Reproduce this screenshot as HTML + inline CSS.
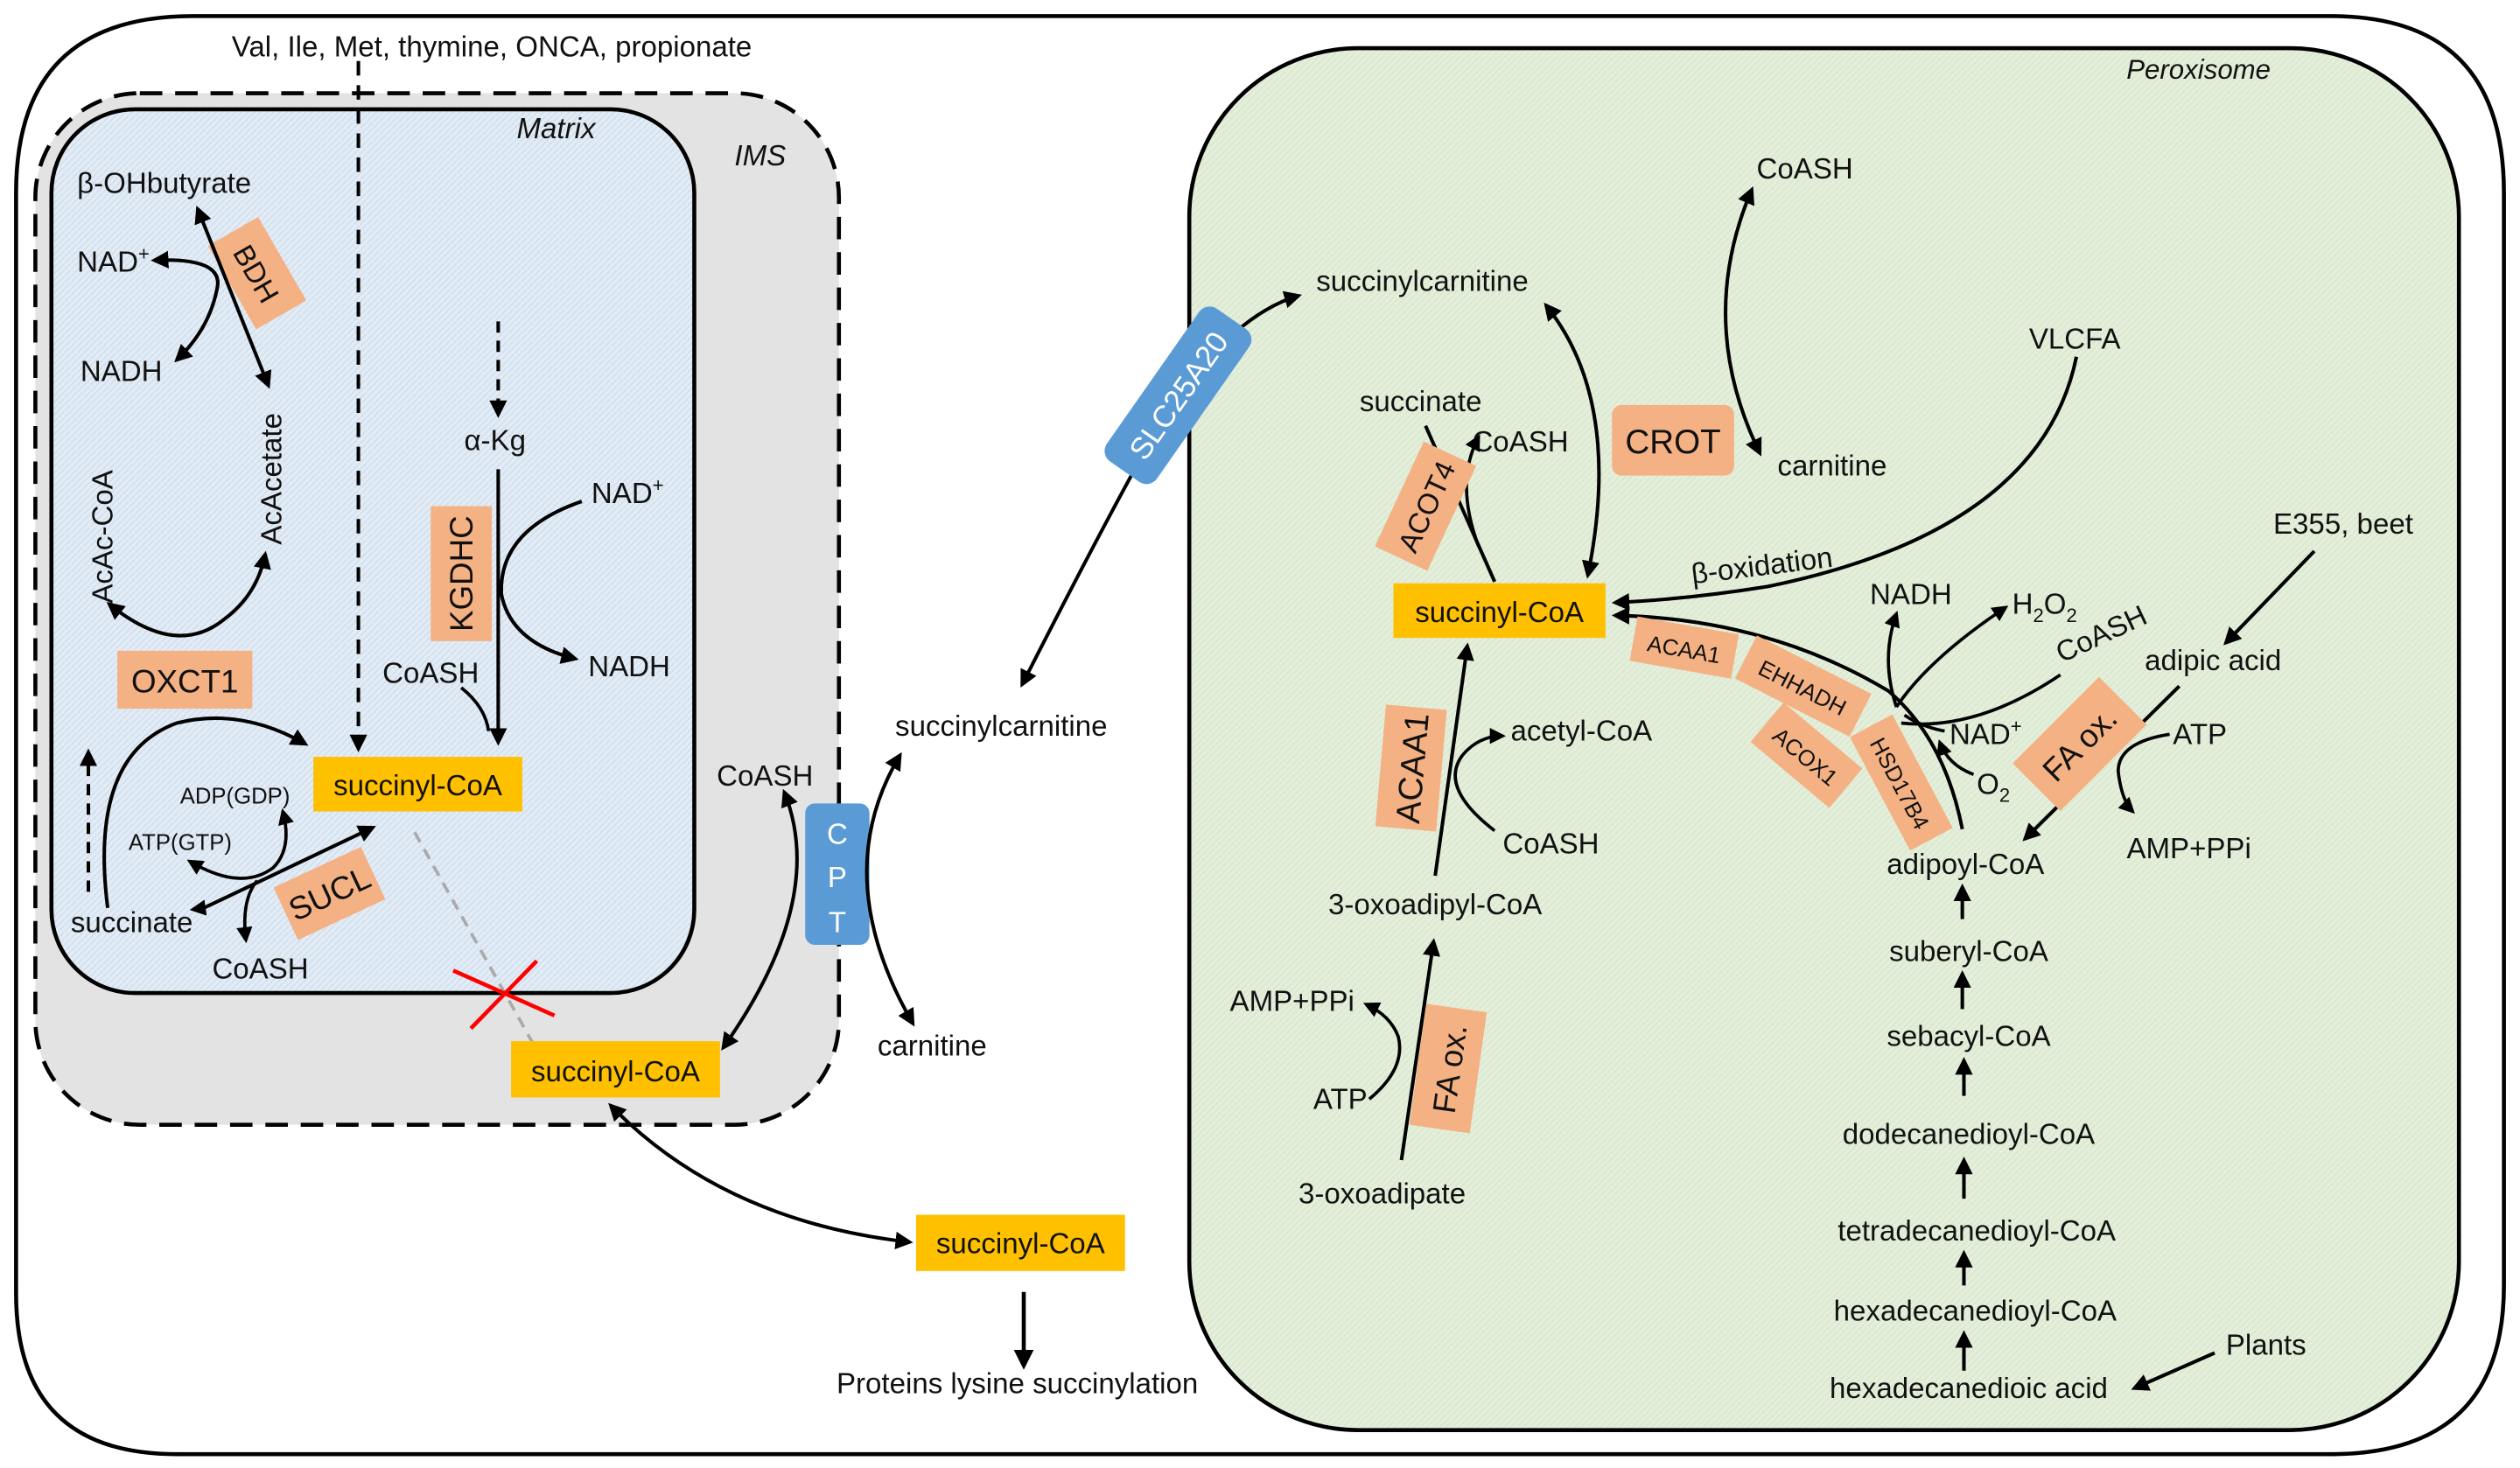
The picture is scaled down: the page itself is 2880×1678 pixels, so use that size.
<!DOCTYPE html>
<html><head><meta charset="utf-8"><style>
html,body{margin:0;padding:0;background:#fff}
svg{display:block}
text{font-family:"Liberation Sans",sans-serif;fill:#111}
</style></head><body>
<svg width="2880" height="1678" viewBox="0 0 1568 913.6" preserveAspectRatio="none" xmlns="http://www.w3.org/2000/svg">
<defs>
<marker id="a" viewBox="0 0 10 10" refX="8" refY="5" markerWidth="5" markerHeight="5" orient="auto-start-reverse"><path d="M0,0L10,5L0,10z" fill="#000"/></marker>
<pattern id="hb" width="4" height="4" patternUnits="userSpaceOnUse"><rect width="4" height="4" fill="#e2ecf6"/><path d="M0,4L4,0" stroke="#cfdcea" stroke-width="0.8"/></pattern>
<pattern id="hg" width="4" height="4" patternUnits="userSpaceOnUse"><rect width="4" height="4" fill="#e4efdb"/><path d="M0,4L4,0" stroke="#d8e6cc" stroke-width="0.8"/></pattern>
</defs>
<g font-size="18">
<!-- cell -->
<path d="M120,10 H1450 Q1558,10 1558,120 V800 Q1558,905 1450,905 H110 Q10,905 10,805 V120 Q10,10 120,10z" fill="#fff" stroke="#000" stroke-width="2.5"/>
<text x="306" y="35" text-anchor="middle">Val, Ile, Met, thymine, ONCA, propionate</text>
<!-- IMS -->
<rect x="22" y="58" width="500" height="642" rx="65" fill="#e3e3e3" stroke="#000" stroke-width="2.5" stroke-dasharray="14,8"/>
<rect x="32" y="68" width="400" height="550" rx="52" fill="url(#hb)" stroke="#000" stroke-width="2.5"/>
<text x="346" y="86" font-style="italic" text-anchor="middle">Matrix</text>
<text x="473" y="103" font-style="italic" text-anchor="middle">IMS</text>
<!-- peroxisome -->
<rect x="740" y="30" width="790" height="860" rx="105" fill="url(#hg)" stroke="#000" stroke-width="2.5"/>
<text x="1368" y="49" font-style="italic" text-anchor="middle" font-size="17">Peroxisome</text>

<!-- left matrix content -->
<line x1="223" y1="38" x2="223" y2="466" stroke="#000" stroke-width="2.2" stroke-dasharray="9,6" marker-end="url(#a)"/>
<text x="48" y="120">β-OHbutyrate</text>
<text x="48" y="169">NAD<tspan font-size="12" dy="-7">+</tspan></text>
<text x="50" y="237">NADH</text>
<g transform="translate(160,170) rotate(-30)"><rect x="-18" y="-30" width="36" height="60" fill="#f4b183"/><text transform="rotate(90)" x="0" y="7" text-anchor="middle">BDH</text></g>
<line x1="167" y1="240" x2="123" y2="130" stroke="#000" stroke-width="2.2" marker-end="url(#a)" marker-start="url(#a)"/>
<path d="M96,162 Q140,160 135,180 Q130,205 110,224" fill="none" stroke="#000" stroke-width="2.2" marker-start="url(#a)" marker-end="url(#a)"/>
<text transform="translate(175,298) rotate(-90)" text-anchor="middle">AcAcetate</text>
<text transform="translate(70,334) rotate(-90)" text-anchor="middle">AcAc-CoA</text>
<path d="M68,376 Q110,410 140,385 Q160,370 165,345" fill="none" stroke="#000" stroke-width="2.2" marker-start="url(#a)" marker-end="url(#a)"/>
<rect x="73" y="405" width="84" height="36" fill="#f4b183"/><text x="115" y="431" text-anchor="middle" font-size="20">OXCT1</text>
<rect x="195" y="471" width="130" height="34" fill="#ffc000"/><text x="260" y="495" text-anchor="middle">succinyl-CoA</text>
<line x1="55" y1="555" x2="55" y2="468" stroke="#000" stroke-width="2.2" stroke-dasharray="7,5" marker-end="url(#a)"/>
<path d="M67,565 Q55,470 110,450 Q150,440 190,463" fill="none" stroke="#000" stroke-width="2.2" marker-end="url(#a)"/>
<line x1="127" y1="565" x2="232" y2="515" stroke="#000" stroke-width="2.2" marker-end="url(#a)"/>
<text x="44" y="580">succinate</text>
<text x="132" y="609">CoASH</text>
<text x="112" y="500" font-size="14">ADP(GDP)</text>
<text x="80" y="529" font-size="14">ATP(GTP)</text>
<path d="M118,536 Q150,555 170,540 Q182,528 176,505" fill="none" stroke="#000" stroke-width="2" marker-start="url(#a)" marker-end="url(#a)"/>
<path d="M160,548 Q150,560 153,585" fill="none" stroke="#000" stroke-width="2" marker-end="url(#a)"/>
<path d="M127,565 L120,566" stroke="#000" stroke-width="2" marker-end="url(#a)"/>
<g transform="translate(205,556) rotate(-25)"><rect x="-30" y="-18" width="60" height="36" fill="#f4b183"/><text x="0" y="7" text-anchor="middle" font-size="20">SUCL</text></g>
<text x="308" y="280" text-anchor="middle">α-Kg</text>
<line x1="310" y1="200" x2="310" y2="258" stroke="#000" stroke-width="2.2" stroke-dasharray="7,5" marker-end="url(#a)"/>
<rect x="268" y="315" width="38" height="84" fill="#f4b183"/><text transform="translate(294,357) rotate(-90)" text-anchor="middle" font-size="20">KGDHC</text>
<line x1="310" y1="292" x2="310" y2="462" stroke="#000" stroke-width="2.2" marker-end="url(#a)"/>
<path d="M362,312 Q310,330 312,370 Q318,400 358,410" fill="none" stroke="#000" stroke-width="2.2" marker-end="url(#a)"/>
<text x="368" y="313">NAD<tspan font-size="12" dy="-7">+</tspan></text>
<text x="366" y="421">NADH</text>
<text x="238" y="425">CoASH</text>
<path d="M287,428 Q302,440 304,455" fill="none" stroke="#000" stroke-width="2"/>
<line x1="258" y1="518" x2="332" y2="650" stroke="#aaa" stroke-width="2" stroke-dasharray="7,5"/>
<line x1="293" y1="640" x2="334" y2="598" stroke="#f00" stroke-width="2.5"/>
<line x1="282" y1="604" x2="345" y2="632" stroke="#f00" stroke-width="2.5"/>
<rect x="318" y="648" width="130" height="35" fill="#ffc000"/><text x="383" y="673" text-anchor="middle">succinyl-CoA</text>
<text x="446" y="489">CoASH</text>
<path d="M488,493 Q515,560 450,652" fill="none" stroke="#000" stroke-width="2.2" marker-start="url(#a)" marker-end="url(#a)"/>
<rect x="501" y="500" width="40" height="88" rx="6" fill="#5b9bd5"/>
<text x="521" y="525" text-anchor="middle" fill="#fff" style="fill:#fff">C</text>
<text x="521" y="552" text-anchor="middle" style="fill:#fff">P</text>
<text x="521" y="580" text-anchor="middle" style="fill:#fff">T</text>
<path d="M560,470 Q515,545 568,637" fill="none" stroke="#000" stroke-width="2.2" marker-start="url(#a)" marker-end="url(#a)"/>
<text x="557" y="458">succinylcarnitine</text>
<text x="546" y="657">carnitine</text>
<!-- SLC25A20 -->
<path d="M636,426 Q700,300 730,250 Q770,195 808,184" fill="none" stroke="#000" stroke-width="2.2" marker-start="url(#a)" marker-end="url(#a)"/>
<g transform="translate(733,246) rotate(-55)"><rect x="-58" y="-19" width="116" height="38" rx="8" fill="#5b9bd5"/><text x="0" y="7" text-anchor="middle" style="fill:#fff" font-size="19">SLC25A20</text></g>
<!-- cytosol -->
<path d="M380,688 Q450,760 566,773" fill="none" stroke="#000" stroke-width="2.2" marker-start="url(#a)" marker-end="url(#a)"/>
<rect x="570" y="756" width="130" height="35" fill="#ffc000"/><text x="635" y="780" text-anchor="middle">succinyl-CoA</text>
<line x1="637" y1="804" x2="637" y2="850" stroke="#000" stroke-width="2.5" marker-end="url(#a)"/>
<text x="633" y="867" text-anchor="middle">Proteins lysine succinylation</text>

<!-- peroxisome content -->
<text x="885" y="181" text-anchor="middle">succinylcarnitine</text>
<path d="M962,190 Q1010,250 988,358" fill="none" stroke="#000" stroke-width="2.2" marker-start="url(#a)" marker-end="url(#a)"/>
<text x="884" y="256" text-anchor="middle">succinate</text>
<text x="946" y="281" text-anchor="middle">CoASH</text>
<line x1="930" y1="362" x2="887" y2="265" stroke="#000" stroke-width="2.2"/>
<path d="M920,340 Q905,300 920,272" fill="none" stroke="#000" stroke-width="2" marker-end="url(#a)"/>
<g transform="translate(887,315) rotate(-65)"><rect x="-36" y="-18" width="72" height="36" fill="#f4b183"/><text x="0" y="7" text-anchor="middle">ACOT4</text></g>
<rect x="1003" y="252" width="76" height="44" rx="6" fill="#f4b183"/><text x="1041" y="282" text-anchor="middle" font-size="21">CROT</text>
<text x="1123" y="111" text-anchor="middle">CoASH</text>
<path d="M1090,118 Q1055,200 1095,282" fill="none" stroke="#000" stroke-width="2.2" marker-start="url(#a)" marker-end="url(#a)"/>
<text x="1140" y="296" text-anchor="middle">carnitine</text>
<text x="1291" y="217" text-anchor="middle">VLCFA</text>
<path d="M1292,222 Q1270,330 1100,365 Q1050,373 1005,375" fill="none" stroke="#000" stroke-width="2.2" marker-end="url(#a)"/>
<text transform="translate(1097,358) rotate(-7)" text-anchor="middle">β-oxidation</text>
<rect x="867" y="363" width="132" height="34" fill="#ffc000"/><text x="933" y="387" text-anchor="middle">succinyl-CoA</text>
<path d="M1098,403 L1098,403" />
<path d="M1221,516 Q1210,460 1175,430 Q1100,385 1005,383" fill="none" stroke="#000" stroke-width="2.2" marker-end="url(#a)"/>
<g transform="translate(1048,403) rotate(10)"><rect x="-32" y="-14" width="64" height="28" fill="#f4b183"/><text x="0" y="6" text-anchor="middle" font-size="14">ACAA1</text></g>
<g transform="translate(1122,427) rotate(27)"><rect x="-40" y="-15" width="80" height="30" fill="#f4b183"/><text x="0" y="6" text-anchor="middle" font-size="14">EHHADH</text></g>
<g transform="translate(1124,470) rotate(40)"><rect x="-32" y="-16" width="64" height="32" fill="#f4b183"/><text x="0" y="6" text-anchor="middle" font-size="14">ACOX1</text></g>
<g transform="translate(1183,487) rotate(62)"><rect x="-40" y="-15" width="80" height="30" fill="#f4b183"/><text x="0" y="6" text-anchor="middle" font-size="14">HSD17B4</text></g>
<text x="1189" y="376" text-anchor="middle">NADH</text>
<path d="M1180,440 Q1170,410 1180,382" fill="none" stroke="#000" stroke-width="2" marker-end="url(#a)"/>
<text x="1252" y="382">H<tspan font-size="12" dy="5">2</tspan><tspan dy="-5">O</tspan><tspan font-size="12" dy="5">2</tspan></text>
<path d="M1180,440 Q1200,410 1248,378" fill="none" stroke="#000" stroke-width="2" marker-end="url(#a)"/>
<text transform="translate(1310,400) rotate(-25)" text-anchor="middle">CoASH</text>
<path d="M1183,450 Q1230,455 1282,420" fill="none" stroke="#000" stroke-width="2"/>
<text x="1213" y="463">NAD<tspan font-size="12" dy="-7">+</tspan></text>
<path d="M1210,455 Q1195,452 1185,445" fill="none" stroke="#000" stroke-width="2"/>
<text x="1230" y="494">O<tspan font-size="12" dy="5">2</tspan></text>
<path d="M1228,482 Q1212,476 1207,462" fill="none" stroke="#000" stroke-width="2" marker-end="url(#a)"/>
<text x="1458" y="332" text-anchor="middle">E355, beet</text>
<line x1="1440" y1="343" x2="1385" y2="400" stroke="#000" stroke-width="2.2" marker-end="url(#a)"/>
<text x="1377" y="417" text-anchor="middle">adipic acid</text>
<line x1="1356" y1="427" x2="1260" y2="522" stroke="#000" stroke-width="2.2" marker-end="url(#a)"/>
<g transform="translate(1294,463) rotate(-45)"><rect x="-38" y="-21" width="76" height="42" fill="#f4b183"/><text x="0" y="7" text-anchor="middle" font-size="20">FA ox.</text></g>
<text x="1352" y="463">ATP</text>
<path d="M1350,457 Q1318,462 1318,480 Q1320,498 1327,505" fill="none" stroke="#000" stroke-width="2" marker-end="url(#a)"/>
<text x="1362" y="534" text-anchor="middle">AMP+PPi</text>
<text x="1223" y="544" text-anchor="middle">adipoyl-CoA</text>
<text x="1225" y="598" text-anchor="middle">suberyl-CoA</text>
<text x="1225" y="651" text-anchor="middle">sebacyl-CoA</text>
<text x="1225" y="712" text-anchor="middle">dodecanedioyl-CoA</text>
<text x="1230" y="772" text-anchor="middle">tetradecanedioyl-CoA</text>
<text x="1229" y="822" text-anchor="middle">hexadecanedioyl-CoA</text>
<text x="1225" y="870" text-anchor="middle">hexadecanedioic acid</text>
<g stroke="#000" stroke-width="2.2" marker-end="url(#a)">
<line x1="1221" y1="572" x2="1221" y2="552"/>
<line x1="1221" y1="628" x2="1221" y2="606"/>
<line x1="1222" y1="682" x2="1222" y2="660"/>
<line x1="1222" y1="746" x2="1222" y2="722"/>
<line x1="1222" y1="800" x2="1222" y2="780"/>
<line x1="1222" y1="853" x2="1222" y2="830"/>
<line x1="1378" y1="842" x2="1328" y2="864"/>
</g>
<text x="1410" y="843" text-anchor="middle">Plants</text>
<line x1="893" y1="545" x2="913" y2="402" stroke="#000" stroke-width="2.2" marker-end="url(#a)"/>
<g transform="translate(878,478) rotate(-85)"><rect x="-38" y="-19" width="76" height="38" fill="#f4b183"/><text x="0" y="8" text-anchor="middle" font-size="21">ACAA1</text></g>
<path d="M930,517 Q895,490 910,470 Q920,458 935,458" fill="none" stroke="#000" stroke-width="2" marker-end="url(#a)"/>
<text x="940" y="461">acetyl-CoA</text>
<text x="935" y="531">CoASH</text>
<text x="893" y="569" text-anchor="middle">3-oxoadipyl-CoA</text>
<line x1="872" y1="722" x2="892" y2="586" stroke="#000" stroke-width="2.2" marker-end="url(#a)"/>
<g transform="translate(901,665) rotate(-82)"><rect x="-38" y="-19" width="76" height="38" fill="#f4b183"/><text x="0" y="8" text-anchor="middle" font-size="20">FA ox.</text></g>
<text x="804" y="629" text-anchor="middle">AMP+PPi</text>
<text x="834" y="690" text-anchor="middle">ATP</text>
<path d="M852,684 Q875,665 870,645 Q865,632 850,625" fill="none" stroke="#000" stroke-width="2" marker-end="url(#a)"/>
<text x="860" y="749" text-anchor="middle">3-oxoadipate</text>
</g>
</svg>
</body></html>
